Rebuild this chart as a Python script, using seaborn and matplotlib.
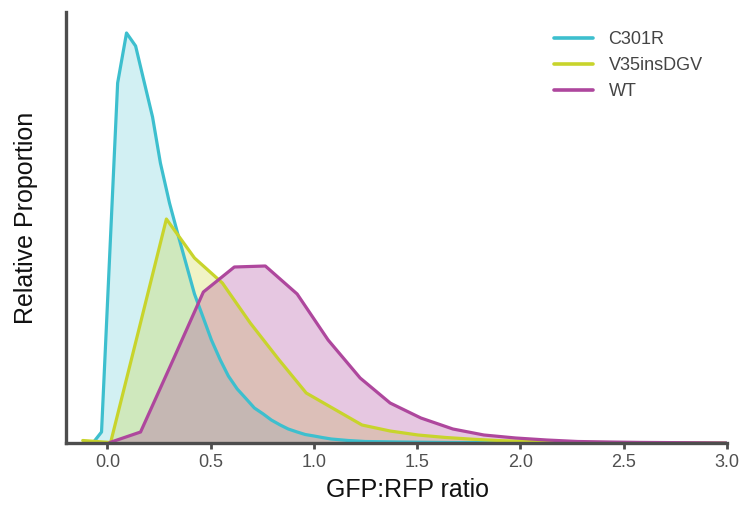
import matplotlib
matplotlib.use("Agg")
import matplotlib.pyplot as plt
import seaborn as sns
import pandas as pd
import numpy as np

# ---- data ----
series_names = ["C301R", "V35insDGV", "WT"]

c301r_x = [-0.066, -0.028, 0.050, 0.093, 0.137, 0.175, 0.219, 0.257, 0.301, 0.340,
           0.383, 0.422, 0.465, 0.504, 0.547, 0.586, 0.629, 0.673, 0.712, 0.755,
           0.794, 0.837, 0.876, 0.919, 0.958, 1.001, 1.040, 1.084, 1.166, 1.248,
           1.417, 1.659, 1.900, 2.383, 2.997]
c301r_y = [1, 11, 360, 410, 397, 364, 326, 280, 240, 210,
           178, 149, 125, 103, 83, 67, 54, 44, 35, 29,
           23, 18, 14, 11, 8.5, 7, 5.5, 4, 2.5, 1.5,
           1, 0.5, 0.3, 0.1, 0]

v35_x = [-0.119, 0.016, 0.151, 0.286, 0.422, 0.557, 0.692, 0.828, 0.963, 1.098,
         1.233, 1.369, 1.504, 1.639, 1.775, 1.910, 2.045, 2.181, 2.316, 2.451,
         2.587, 2.722, 2.857, 2.992]
v35_y = [2.5, 0.5, 112, 224, 185, 160, 120, 84, 50, 34,
         18, 12, 8, 5.5, 3.7, 2.3, 1.5, 1, 0.6, 0.4,
         0.3, 0.2, 0.1, 0]

wt_x = [0.012, 0.161, 0.316, 0.465, 0.615, 0.765, 0.919, 1.069, 1.224, 1.369,
        1.518, 1.673, 1.823, 1.977, 2.127, 2.277, 2.426, 2.577, 2.727, 2.876, 2.997]
wt_y = [0.5, 11, 82, 151, 176, 177, 149, 103, 65, 40,
        25, 14, 8, 5, 3, 1.5, 1, 0.6, 0.4, 0.2, 0]

x_ticks = [0.0, 0.5, 1.0, 1.5, 2.0, 2.5, 3.0]
x_tick_labels = ["0.0", "0.5", "1.0", "1.5", "2.0", "2.5", "3.0"]

colors = {"C301R": "#3DBFCE", "V35insDGV": "#C8D42C", "WT": "#AE479D"}
fill_alpha = {"C301R": 0.23, "V35insDGV": 0.27, "WT": 0.30}

scale = 2000.0
frames = []
for name, xs, ys in [("C301R", c301r_x, c301r_y),
                     ("V35insDGV", v35_x, v35_y),
                     ("WT", wt_x, wt_y)]:
    frames.append(pd.DataFrame({"ratio": xs,
                                "proportion": np.array(ys) / scale,
                                "variant": name}))
df = pd.concat(frames, ignore_index=True)

# ---- figure ----
sns.set_style("white")
plt.rcParams["font.family"] = ["Liberation Sans", "DejaVu Sans"]

fig = plt.figure(figsize=(7.44, 5.07), dpi=100)
ax = fig.add_axes([66 / 744, 1 - 443 / 507, (727 - 66) / 744, (443 - 12) / 507])

for name in series_names:
    sub = df[df["variant"] == name]
    ax.fill_between(sub["ratio"], sub["proportion"], 0,
                    color=colors[name], alpha=fill_alpha[name], linewidth=0)

sns.lineplot(data=df, x="ratio", y="proportion", hue="variant",
             hue_order=series_names, palette=colors, linewidth=2.3,
             estimator=None, sort=True, ax=ax)

ax.set_xlim(-0.2, 3.0)
ax.set_ylim(0, 431 / scale)
ax.set_xticks(x_ticks)
ax.set_xticklabels(x_tick_labels)
ax.set_yticks([])

spine_col = "#4d4d4d"
for s in ["top", "right"]:
    ax.spines[s].set_visible(False)
for s in ["left", "bottom"]:
    ax.spines[s].set_color(spine_col)
    ax.spines[s].set_linewidth(2.4)
ax.tick_params(axis="x", direction="out", length=4, width=2, color=spine_col,
               labelsize=13, labelcolor="#505050", pad=4, bottom=True)

ax.set_xlabel("GFP:RFP ratio", fontsize=18, color="#111111")
ax.set_ylabel("Relative Proportion", fontsize=18, color="#111111")
ax.xaxis.set_label_coords(0.516, -0.082)
ax.yaxis.set_label_coords(-0.043, 0.522)

leg = ax.legend(loc="upper left", bbox_to_anchor=(0.713, 0.993), frameon=False,
                fontsize=13, handlelength=2.2, handletextpad=0.85,
                labelspacing=0.5, borderpad=0.4, title=None)
for t in leg.get_texts():
    t.set_color("#444444")
for l in leg.get_lines():
    l.set_linewidth(2.6)

fig.savefig("out.png", dpi=100)
